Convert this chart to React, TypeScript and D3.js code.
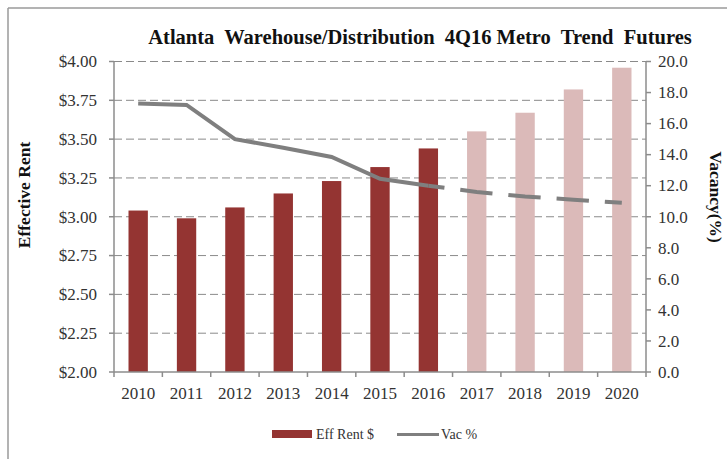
import React from "react";
import * as d3 from "d3";

const years = ["2010", "2011", "2012", "2013", "2014", "2015", "2016", "2017", "2018", "2019", "2020"];
const effRent = [3.04, 2.99, 3.06, 3.15, 3.23, 3.32, 3.44, 3.55, 3.67, 3.82, 3.96];
const vacancy = [17.3, 17.2, 15.0, 14.45, 13.85, 12.45, 12.0, 11.6, 11.3, 11.1, 10.9];
const lastActual = "2016";
const rentTicks = [2.0, 2.25, 2.5, 2.75, 3.0, 3.25, 3.5, 3.75, 4.0];
const vacTicks = [0, 2, 4, 6, 8, 10, 12, 14, 16, 18, 20];

const W = 727;
const H = 459;
const margin = { top: 61.5, right: 81, bottom: 87, left: 114 };
const serif = "'Liberation Serif', 'Times New Roman', serif";

const darkRed = "#943432";
const lightRed = "#dbbab9";
const lineGray = "#7f7f7f";
const axisGray = "#8c8c8c";
const textCol = "#333";

export default function App() {
  const x = d3
    .scaleBand()
    .domain(years)
    .range([margin.left, W - margin.right])
    .paddingInner(0.6)
    .paddingOuter(0.3);
  const yRent = d3.scaleLinear().domain([2, 4]).range([H - margin.bottom, margin.top]);
  const yVac = d3.scaleLinear().domain([0, 20]).range([H - margin.bottom, margin.top]);

  const cx = (yr: string) => (x(yr) as number) + x.bandwidth() / 2;
  const split = years.indexOf(lastActual);
  const pts = years.map((yr, i) => [cx(yr), yVac(vacancy[i])] as [number, number]);
  const line = d3.line();
  const solidPath = line(pts.slice(0, split + 1)) as string;
  const dashPath = line(pts.slice(split)) as string;
  const dash = x.step() * 0.67;
  const gap = x.step() - dash;

  const x0 = margin.left;
  const x1 = W - margin.right;
  const yB = H - margin.bottom;
  const boundaries = years.map((yr) => (x(yr) as number) - (x.step() - x.bandwidth()) / 2);
  boundaries.push(x1);

  return (
    <svg
      width={W}
      height={H}
      style={{ position: "absolute", left: 0, top: 0, background: "#fff" }}
      fontFamily={serif}
    >
      {/* frame */}
      <line x1={8} x2={W} y1={8} y2={8} stroke="#9a9a9a" strokeWidth={1.5} />
      <line x1={8} x2={8} y1={8} y2={H} stroke="#9a9a9a" strokeWidth={1.5} />

      {/* title */}
      <text
        x={420}
        y={44}
        textAnchor="middle"
        fontSize={20.5}
        fontWeight="bold"
        fill="#111"
        style={{ whiteSpace: "pre" }}
      >
        {"Atlanta  Warehouse/Distribution  4Q16 Metro  Trend  Futures"}
      </text>

      {/* grid */}
      {rentTicks.map((t) => (
        <line
          key={"g" + t}
          x1={x0}
          x2={x1}
          y1={yRent(t)}
          y2={yRent(t)}
          stroke="#8a8a8a"
          strokeDasharray="8 4"
          strokeWidth={1}
          opacity={t === 2 ? 0 : 1}
        />
      ))}

      {/* bars */}
      {years.map((yr, i) => (
        <rect
          key={yr}
          x={x(yr)}
          width={x.bandwidth()}
          y={yRent(effRent[i])}
          height={yB - yRent(effRent[i])}
          fill={i <= split ? darkRed : lightRed}
        />
      ))}

      {/* vacancy line */}
      <path d={solidPath} fill="none" stroke={lineGray} strokeWidth={4} />
      <path
        d={dashPath}
        fill="none"
        stroke={lineGray}
        strokeWidth={4}
        strokeDasharray={`${dash} ${gap}`}
        strokeDashoffset={dash / 2}
      />

      {/* axes */}
      <line x1={x0} x2={x0} y1={margin.top} y2={yB} stroke={axisGray} strokeWidth={1.5} />
      <line x1={x1} x2={x1} y1={margin.top} y2={yB} stroke={axisGray} strokeWidth={1.5} />
      <line x1={x0} x2={x1} y1={yB} y2={yB} stroke={axisGray} strokeWidth={1.5} />
      {rentTicks.map((t) => (
        <g key={"l" + t}>
          <line x1={x0 - 5} x2={x0} y1={yRent(t)} y2={yRent(t)} stroke={axisGray} strokeWidth={1.5} />
          <text x={97} y={yRent(t)} dy="0.34em" textAnchor="end" fontSize={17} fill={textCol}>
            {d3.format("$.2f")(t)}
          </text>
        </g>
      ))}
      {vacTicks.map((t) => (
        <g key={"r" + t}>
          <line x1={x1} x2={x1 + 5} y1={yVac(t)} y2={yVac(t)} stroke={axisGray} strokeWidth={1.5} />
          <text x={658} y={yVac(t)} dy="0.34em" textAnchor="start" fontSize={17} fill={textCol}>
            {d3.format(".1f")(t)}
          </text>
        </g>
      ))}
      {boundaries.map((b, i) => (
        <line key={"b" + i} x1={b} x2={b} y1={yB} y2={yB + 5} stroke={axisGray} strokeWidth={1.5} />
      ))}
      {years.map((yr) => (
        <text key={"t" + yr} x={cx(yr)} y={399} textAnchor="middle" fontSize={17} fill={textCol}>
          {yr}
        </text>
      ))}

      {/* axis titles */}
      <text
        transform="translate(30, 195) rotate(-90)"
        textAnchor="middle"
        fontSize={17.5}
        fontWeight="bold"
        fill="#111"
      >
        Effective Rent
      </text>
      <text
        transform="translate(710, 197) rotate(90)"
        textAnchor="middle"
        fontSize={17.5}
        fontWeight="bold"
        fill="#111"
      >
        Vacancy(%)
      </text>

      {/* legend */}
      <rect x={272} y={430} width={40} height={8} fill={darkRed} />
      <text x={316} y={439} fontSize={14} fill={textCol}>
        Eff Rent $
      </text>
      <line x1={397} x2={439} y1={434.5} y2={434.5} stroke={lineGray} strokeWidth={3} />
      <text x={441} y={439} fontSize={14} fill={textCol}>
        Vac %
      </text>
    </svg>
  );
}
